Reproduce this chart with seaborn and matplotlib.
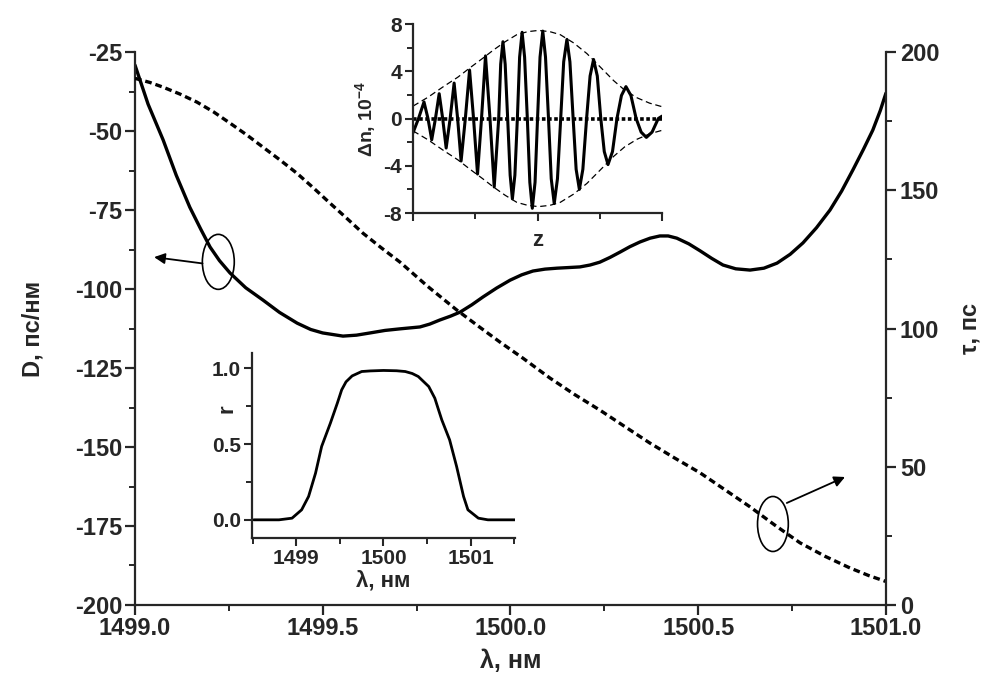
import matplotlib
matplotlib.use("Agg")
import matplotlib.pyplot as plt
import numpy as np
import pandas as pd
import seaborn as sns
from matplotlib.patches import Ellipse
from matplotlib.ticker import MultipleLocator, FormatStrFormatter, NullFormatter

# ---- main plot: dispersion D (left axis) and group delay tau (right axis) ----
wl_D = [1499.000, 1499.035, 1499.075, 1499.110, 1499.146, 1499.175, 1499.200,
        1499.225, 1499.253, 1499.295, 1499.341, 1499.385, 1499.432, 1499.468,
        1499.500, 1499.554, 1499.590, 1499.626, 1499.666, 1499.706, 1499.759,
        1499.785, 1499.812, 1499.840, 1499.866, 1499.897, 1499.927, 1499.963,
        1499.999, 1500.030, 1500.060, 1500.092, 1500.124, 1500.155, 1500.185,
        1500.212, 1500.238, 1500.265, 1500.292, 1500.318, 1500.345, 1500.372,
        1500.398, 1500.420, 1500.443, 1500.475, 1500.505, 1500.536, 1500.566,
        1500.600, 1500.638, 1500.675, 1500.710, 1500.745, 1500.779, 1500.815,
        1500.851, 1500.882, 1500.912, 1500.940, 1500.965, 1500.985, 1501.000]
disp_D = [-29.1, -41.5, -52.8, -64.0, -74.1, -81.0, -86.7,
          -91.0, -94.9, -99.6, -103.5, -107.4, -110.8, -112.8,
          -113.9, -114.9, -114.6, -113.9, -113.1, -112.6, -112.0,
          -111.1, -109.8, -108.6, -107.3, -105.0, -102.5, -99.7,
          -97.2, -95.5, -94.3, -93.7, -93.4, -93.2, -93.0,
          -92.4, -91.5, -90.0, -88.3, -86.6, -85.1, -83.9,
          -83.2, -83.2, -83.9, -85.7, -87.9, -90.3, -92.4,
          -93.6, -94.0, -93.4, -91.8, -89.0, -85.4, -80.6,
          -75.0, -69.0, -62.3, -55.8, -49.7, -43.5, -38.0]

wl_tau = [1499.000, 1499.040, 1499.075, 1499.120, 1499.165, 1499.210, 1499.253,
          1499.297, 1499.341, 1499.386, 1499.431, 1499.475, 1499.519, 1499.563,
          1499.607, 1499.656, 1499.706, 1499.780, 1499.857, 1499.915, 1499.972,
          1500.033, 1500.105, 1500.170, 1500.238, 1500.305, 1500.371, 1500.438,
          1500.505, 1500.571, 1500.638, 1500.705, 1500.771, 1500.838, 1500.904,
          1500.955, 1501.000]
delay_tau = [190.5, 189.0, 187.3, 184.8, 181.9, 178.3, 174.3,
             170.1, 165.6, 161.0, 156.2, 150.9, 145.4, 140.0,
             134.5, 129.2, 124.0, 115.2, 106.7, 100.8, 95.1,
             89.3, 82.1, 76.2, 70.5, 64.5, 58.6, 53.1,
             47.8, 41.7, 35.5, 28.8, 22.5, 17.6, 13.4,
             10.6, 8.5]

# ---- upper inset: refractive-index modulation along the grating ----
z_pts = [0.000, 0.022, 0.044, 0.060, 0.075, 0.090, 0.105, 0.119, 0.133, 0.149,
         0.165, 0.179, 0.193, 0.210, 0.227, 0.243, 0.259, 0.275, 0.291, 0.309,
         0.326, 0.344, 0.352, 0.361, 0.370, 0.380, 0.390, 0.399, 0.409, 0.419,
         0.428, 0.438, 0.448, 0.459, 0.469, 0.479, 0.490, 0.500, 0.510, 0.521,
         0.532, 0.544, 0.555, 0.567, 0.580, 0.593, 0.605, 0.618, 0.630, 0.643,
         0.655, 0.668, 0.682, 0.697, 0.711, 0.725, 0.740, 0.754, 0.768, 0.783,
         0.801, 0.819, 0.837, 0.855, 0.875, 0.896, 0.916, 0.937, 0.960, 0.985,
         1.000]
dn_pts = [-1.2, 0.0, 1.4, 0.0, -1.8, 0.0, 2.1, 0.0, -2.5, 0.0,
          3.0, 0.0, -3.6, 0.0, 4.1, 0.0, -4.7, 0.0, 5.3, 0.0,
          -5.8, 0.0, 4.6, 6.5, 4.6, 0.0, -4.8, -6.8, -4.8, 0.0,
          5.2, 7.3, 5.2, 0.0, -5.4, -7.6, -5.4, 0.0, 5.2, 7.4,
          5.2, 0.0, -5.1, -7.2, -5.1, 0.0, 4.8, 6.7, 4.8, 0.0,
          -4.3, -6.0, -4.3, 0.0, 3.6, 5.0, 3.6, 0.0, -2.8, -3.9,
          -2.8, 0.0, 1.95, 2.7, 1.95, 0.0, -1.15, -1.6, -1.15, 0.0,
          0.2]

z_env = [0.00, 0.06, 0.122, 0.18, 0.229, 0.28, 0.323, 0.37, 0.417, 0.46,
         0.504, 0.55, 0.591, 0.645, 0.698, 0.75, 0.806, 0.85, 0.90, 0.95, 1.00]
env_up = [1.05, 1.8, 2.7, 3.5, 4.3, 5.1, 5.8, 6.5, 7.1, 7.35,
          7.46, 7.35, 7.1, 6.4, 5.5, 4.4, 3.2, 2.4, 1.75, 1.3, 1.0]
env_dn = [-v for v in env_up]

# ---- lower inset: reflection spectrum ----
wl_r = [1498.51, 1498.80, 1498.95, 1499.06, 1499.14, 1499.22, 1499.29, 1499.39,
        1499.47, 1499.52, 1499.57, 1499.64, 1499.75, 1499.85, 1500.00, 1500.15,
        1500.25, 1500.33, 1500.40, 1500.52, 1500.59, 1500.63, 1500.67, 1500.76,
        1500.84, 1500.92, 1500.97, 1501.09, 1501.20, 1501.51]
refl = [0.0, 0.0, 0.011, 0.066, 0.154, 0.308, 0.484, 0.637,
        0.769, 0.857, 0.910, 0.949, 0.978, 0.982, 0.985, 0.983,
        0.978, 0.965, 0.945, 0.879, 0.802, 0.730, 0.659, 0.527,
        0.352, 0.154, 0.066, 0.011, 0.0, 0.0]

sns.set_style("ticks")
plt.rcParams['font.family'] = ['Liberation Sans', 'DejaVu Sans']
plt.rcParams['font.weight'] = 'bold'
plt.rcParams['axes.labelweight'] = 'bold'
plt.rcParams['mathtext.default'] = 'regular'
plt.rcParams['axes.linewidth'] = 1.6
plt.rcParams['axes.unicode_minus'] = False

fig = plt.figure(figsize=(9.96, 6.86), dpi=100)

ax = fig.add_axes([0.1355, 0.1181, 0.754, 0.806])
ax.patch.set_alpha(0)
sns.lineplot(x=wl_D, y=disp_D, ax=ax, color='black', lw=2.4, sort=False,
             estimator=None)
ax.set_xlim(1499.0, 1501.0)
ax.set_ylim(-200, -25)
ax.xaxis.set_major_locator(MultipleLocator(0.5))
ax.xaxis.set_minor_locator(MultipleLocator(0.25))
ax.xaxis.set_major_formatter(FormatStrFormatter('%.1f'))
ax.yaxis.set_major_locator(MultipleLocator(25))
ax.yaxis.set_minor_locator(MultipleLocator(12.5))
ax.tick_params(which='major', direction='out', length=7, width=1.6,
               labelsize=17, pad=2)
ax.tick_params(which='minor', direction='out', length=4, width=1.4)
ax.set_xlabel('λ, нм', fontsize=18, labelpad=6)
ax.set_ylabel('D, пс/нм', fontsize=17, labelpad=22)
ax.spines['top'].set_visible(False)
ax.spines['right'].set_visible(False)

ax2 = ax.twinx()
sns.lineplot(x=wl_tau, y=delay_tau, ax=ax2, color='black', lw=2.4, sort=False,
             estimator=None, linestyle=(0, (2.0, 1.2)))
ax2.set_ylim(0, 200)
ax2.yaxis.set_major_locator(MultipleLocator(50))
ax2.yaxis.set_minor_locator(MultipleLocator(25))
ax2.tick_params(which='major', direction='out', length=7, width=1.6,
                labelsize=17, pad=3)
ax2.tick_params(which='minor', direction='out', length=4, width=1.4)
ax2.set_ylabel('τ, пс', fontsize=17, labelpad=14)
ax2.spines['top'].set_visible(False)
ax2.spines['left'].set_visible(False)
ax2.spines['bottom'].set_visible(False)

# markers pointing each curve to its axis
ax.add_patch(Ellipse((1499.222, -91.4), width=0.085, height=17.4, fill=False,
                     lw=1.2, color='black'))
ax.annotate('', xy=(1499.051, -89.9), xytext=(1499.180, -91.9),
            arrowprops=dict(arrowstyle='-|>', lw=1.3, color='black',
                            mutation_scale=16, shrinkA=0, shrinkB=0))
ax2.add_patch(Ellipse((1500.699, 29.3), width=0.082, height=19.9, fill=False,
                      lw=1.2, color='black'))
ax2.annotate('', xy=(1500.891, 46.3), xytext=(1500.736, 36.9),
             arrowprops=dict(arrowstyle='-|>', lw=1.3, color='black',
                             mutation_scale=16, shrinkA=0, shrinkB=0))

# upper inset
ins1 = fig.add_axes([0.4147, 0.6895, 0.25, 0.2755])
ins1.patch.set_alpha(0)
sns.lineplot(x=z_env, y=env_up, ax=ins1, color='black', lw=0.9, sort=False,
             estimator=None, linestyle=(0, (5, 3)))
sns.lineplot(x=z_env, y=env_dn, ax=ins1, color='black', lw=0.9, sort=False,
             estimator=None, linestyle=(0, (5, 3)))
ins1.axhline(0, color='black', lw=2.6, linestyle=(0, (1.0, 0.7)))
sns.lineplot(x=z_pts, y=dn_pts, ax=ins1, color='black', lw=2.2, sort=False,
             estimator=None)
ins1.set_xlim(0, 1)
ins1.set_ylim(-8, 8)
ins1.xaxis.set_major_locator(MultipleLocator(0.5))
ins1.xaxis.set_minor_locator(MultipleLocator(0.25))
ins1.xaxis.set_major_formatter(NullFormatter())
ins1.yaxis.set_major_locator(MultipleLocator(4))
ins1.yaxis.set_minor_locator(MultipleLocator(2))
ins1.tick_params(which='major', direction='out', length=6, width=1.5,
                 labelsize=15, pad=2)
ins1.tick_params(which='minor', direction='out', length=4, width=1.4)
ins1.set_xlabel('z', fontsize=16, labelpad=4)
ins1.set_ylabel('Δn, 10$^{-4}$', fontsize=14, labelpad=4)
ins1.spines['top'].set_visible(False)
ins1.spines['right'].set_visible(False)

# lower inset
ins2 = fig.add_axes([0.253, 0.2157, 0.264, 0.2697])
ins2.patch.set_alpha(0)
sns.lineplot(x=wl_r, y=refl, ax=ins2, color='black', lw=2.0, sort=False,
             estimator=None)
ins2.set_xlim(1498.49, 1501.51)
ins2.set_ylim(-0.12, 1.1)
ins2.xaxis.set_major_locator(MultipleLocator(1.0))
ins2.xaxis.set_minor_locator(MultipleLocator(0.5))
ins2.xaxis.set_major_formatter(FormatStrFormatter('%d'))
ins2.yaxis.set_major_locator(MultipleLocator(0.5))
ins2.yaxis.set_minor_locator(MultipleLocator(0.25))
ins2.yaxis.set_major_formatter(FormatStrFormatter('%.1f'))
ins2.tick_params(which='major', direction='out', length=6, width=1.5,
                 labelsize=15, pad=2)
ins2.tick_params(which='minor', direction='out', length=4, width=1.4)
ins2.set_xlabel('λ, нм', fontsize=16, labelpad=2)
ins2.set_ylabel('r', fontsize=16)
ins2.yaxis.set_label_coords(-0.055, 0.70)
ins2.spines['top'].set_visible(False)
ins2.spines['right'].set_visible(False)

fig.savefig('out.png', dpi=100)
